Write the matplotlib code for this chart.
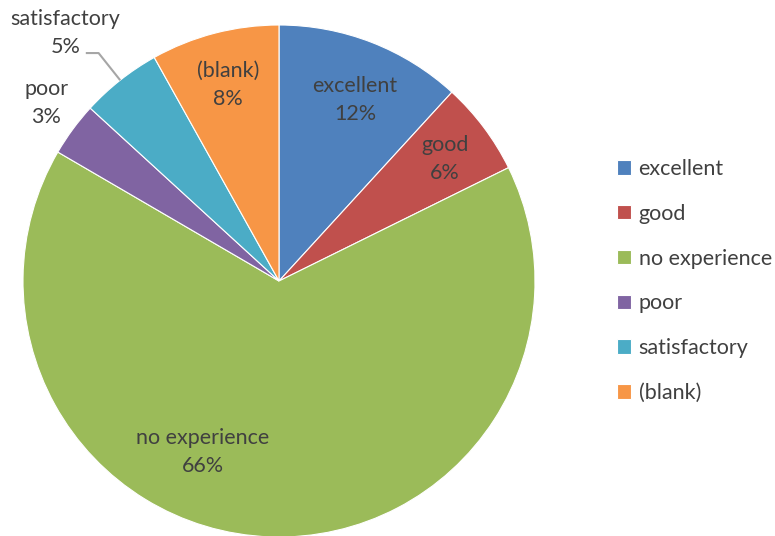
import numpy as np
import matplotlib
matplotlib.use("Agg")
import matplotlib.pyplot as plt

plt.rcParams["font.family"] = ["Lato", "DejaVu Sans"]

# survey answers, share of respondents in percent
categories = ["excellent", "good", "no experience", "poor", "satisfactory", "(blank)"]
shares = [11.8, 5.9, 65.7, 3.4, 5.1, 8.1]
colours = ["#4F81BD", "#C0504D", "#9BBB59", "#8064A2", "#4BACC6", "#F79646"]

# label placement per wedge: (radius, angle in degrees or None for wedge middle)
label_pos = [(0.767, 67.2), (0.805, 36.3), (0.73, 246), (1.145, 142.6), (1.28, 130.7), (0.79, None)]

TEXT = "#404040"
SIZE = 15.5

W, H = 775, 536
CX, CY, R = 279, 281, 256

fig = plt.figure(figsize=(W / 100, H / 100), dpi=100)
ax = fig.add_axes([0, 0, 1, 1])
wedges, _ = ax.pie(
    shares,
    colors=colours,
    startangle=90,
    counterclock=False,
    radius=1.0,
    wedgeprops=dict(edgecolor="white", linewidth=0.8),
)
ax.set_xlim(-CX / R, (W - CX) / R)
ax.set_ylim(-(H - CY) / R, CY / R)
ax.set_aspect("auto")
ax.axis("off")

for w, name, val, (rad, ang) in zip(wedges, categories, shares, label_pos):
    mid = (w.theta1 + w.theta2) / 2
    a = np.deg2rad(mid if ang is None else ang)
    x, y = rad * np.cos(a), rad * np.sin(a)
    ax.text(x, y, f"{name}\n{val:.0f}%", ha="center", va="center",
            fontsize=SIZE, color=TEXT, linespacing=1.5)
    if name == "satisfactory":
        m = np.deg2rad(mid)
        ex, ey = np.cos(m), np.sin(m)
        x0, y0 = x + 0.08, y - 0.08
        ax.plot([x0, x0 + 0.05, ex], [y0, y0, ey], color="#A6A6A6", lw=1.5,
                solid_capstyle="butt")

fig.legend(
    wedges, categories,
    loc="center left", bbox_to_anchor=(617 / W, 1 - 281 / H),
    frameon=False, fontsize=SIZE, labelcolor=TEXT,
    borderaxespad=0, borderpad=0,
    handlelength=0.65, handleheight=0.65, handletextpad=0.35,
    labelspacing=1.15,
)

fig.savefig("out.png", dpi=100)
